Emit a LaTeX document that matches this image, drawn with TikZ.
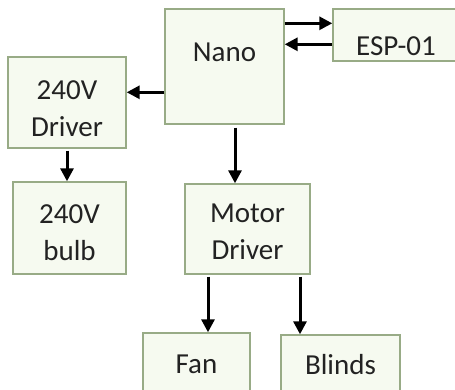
\documentclass[tikz,border=0pt]{standalone}
\usepackage{fontspec}
\setmainfont{Carlito}
\usetikzlibrary{arrows.meta}
\definecolor{boxline}{HTML}{98AB86}
\definecolor{boxfill}{HTML}{F6FAF0}
\definecolor{txtcol}{HTML}{222222}
\begin{document}
\begin{tikzpicture}[x=1pt,y=1pt,
  box/.style={draw=boxline,fill=boxfill,line width=1.4pt,inner sep=0pt},
  txt/.style={inner sep=0pt,align=center,text=txtcol,font=\fontsize{29}{37}\selectfont},
  arr/.style={draw=black,line width=3pt,-{Triangle[length=13pt,width=13pt]}}]
\useasboundingbox (0,0) rectangle (455,389);
\clip (0,0) rectangle (455,389);
% boxes
\node[box,minimum width=119pt,minimum height=115pt] (nano) at (224.5,322.5) {};
\node[box,minimum width=125pt,minimum height=52pt] (esp) at (395.5,354) {};
\node[box,minimum width=118pt,minimum height=91pt] (drv) at (67,286.5) {};
\node[box,minimum width=113pt,minimum height=92pt] (bulb) at (69.5,161) {};
\node[box,minimum width=125pt,minimum height=90pt] (motor) at (247.5,160) {};
\node[box,minimum width=107pt,minimum height=62pt] (fan) at (196.5,25) {};
\node[box,minimum width=119pt,minimum height=60pt] (blinds) at (340.5,24) {};
% texts
\node[txt] (nanot) at (224.5,337) {Nano};
\node[txt] (espt) at (396,343) {ESP-01};
\node[txt] (drvt) at (67,280) {240V\\Driver};
\node[txt] (bulbt) at (69.5,156) {240V\\bulb};
\node[txt] (motort) at (247.5,157) {Motor\\Driver};
\node[txt] (fant) at (196.5,25) {Fan};
\node[txt] (blindst) at (340.5,24) {Blinds};
% connectors
\draw[arr] ([yshift=-15pt]nano.north east) -- ([yshift=-15pt]nano.north east -| esp.west);
\draw[arr] ([yshift=-36pt]esp.north west) -- ([yshift=-36pt]esp.north west -| nano.east);
\draw[arr] ([yshift=-84pt]nano.north west) -- ([yshift=-84pt]nano.north west -| drv.east);
\draw[arr] ([yshift=-3pt,xshift=10.5pt]nano.south) -- ([xshift=10.5pt]nano.south |- motor.north);
\draw[arr] ([yshift=-2pt]drv.south) -- (drv.south |- bulb.north);
\draw[arr] ([yshift=-2pt,xshift=-39.5pt]motor.south) -- ([xshift=-39.5pt]motor.south |- fan.north);
\draw[arr] ([yshift=-2pt,xshift=52.5pt]motor.south) -- ([xshift=52.5pt]motor.south |- blinds.north);
\end{tikzpicture}
\end{document}
